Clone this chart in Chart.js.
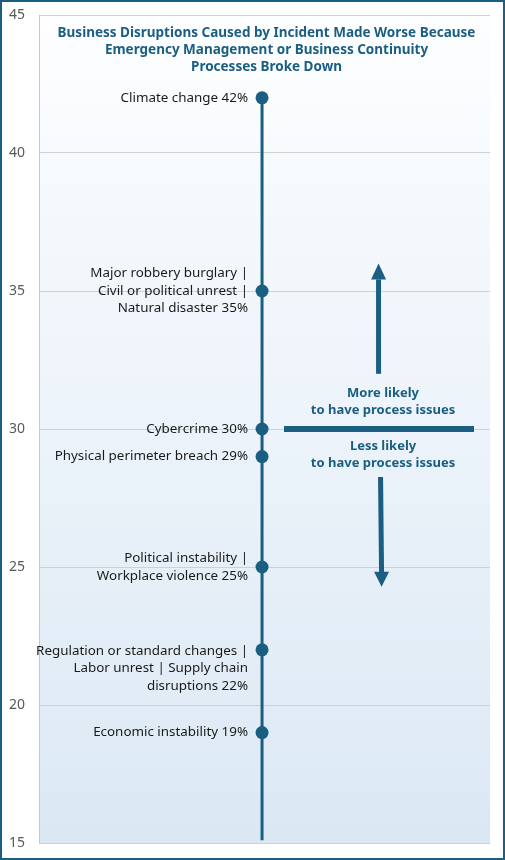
<!DOCTYPE html>
<html>
<head>
<meta charset="utf-8">
<script src="https://cdn.jsdelivr.net/npm/chart.js@4"></script>
<style>
    html, body { margin: 0; padding: 0; background: #ffffff; }
    #wrap { position: relative; width: 505px; height: 860px; }
</style>
</head>
<body>
<div id="wrap"><canvas id="chart" width="505" height="860"></canvas></div>
<script>
// Chart data
const categories = [
    ['Climate change 42%'],
    ['Major robbery burglary |', 'Civil or political unrest |', 'Natural disaster 35%'],
    ['Cybercrime 30%'],
    ['Physical perimeter breach 29%'],
    ['Political instability |', 'Workplace violence 25%'],
    ['Regulation or standard changes |', 'Labor unrest | Supply chain', 'disruptions 22%'],
    ['Economic instability 19%']
];
const shareValues = [42, 35, 30, 29, 25, 22, 19];
const stemBottom = 15.1;
const yTicks = [15, 20, 25, 30, 35, 40, 45];
const titleLines = [
    'Business Disruptions Caused by Incident Made Worse Because',
    'Emergency Management or Business Continuity',
    'Processes Broke Down'
];
const moreText = ['More likely', 'to have process issues'];
const lessText = ['Less likely', 'to have process issues'];

const teal = '#1a5e82';
const fontFam = '"Noto Sans", "Open Sans", sans-serif';

// plot background gradient + outer frame
const backdrop = {
    id: 'backdrop',
    beforeDraw(chart) {
        const { ctx, chartArea: a } = chart;
        const g = ctx.createLinearGradient(0, a.top, 0, a.bottom);
        g.addColorStop(0, '#fdfeff');
        g.addColorStop(0.5, '#ecf3fa');
        g.addColorStop(1, '#dbe8f4');
        ctx.save();
        ctx.fillStyle = g;
        ctx.fillRect(a.left, a.top, a.right - a.left, a.bottom - a.top);
        ctx.restore();
    },
    afterDraw(chart) {
        const { ctx, width, height } = chart;
        ctx.save();
        ctx.strokeStyle = teal;
        ctx.lineWidth = 2;
        ctx.strokeRect(1, 1, width - 2, height - 2);
        ctx.restore();
    }
};

// point labels, title and the likely/unlikely annotation
const annotate = {
    id: 'annotate',
    afterDatasetsDraw(chart) {
        const { ctx, chartArea: a, scales } = chart;
        const meta = chart.getDatasetMeta(0);
        ctx.save();

        // labels to the left of each dot
        ctx.font = '13.4px ' + fontFam;
        ctx.fillStyle = '#1a1a1a';
        ctx.textAlign = 'right';
        ctx.textBaseline = 'middle';
        const lh = 17.5;
        categories.forEach((lines, i) => {
            const pt = meta.data[i];
            const topAligned = lines.length === 3 && i === 5;
            const startY = topAligned ? pt.y + 1 : pt.y - (lines.length - 1) * lh / 2;
            lines.forEach((t, j) => ctx.fillText(t, pt.x - 14, startY + j * lh));
        });

        // title
        ctx.font = 'bold 13.5px ' + fontFam;
        ctx.fillStyle = teal;
        ctx.textAlign = 'center';
        const cx = (a.left + a.right) / 2 + 2;
        titleLines.forEach((t, j) => ctx.fillText(t, cx, scales.y.getPixelForValue(44.35) + j * 17));

        // annotation
        const ax = a.left + (a.right - a.left) * 0.754;
        const y30 = scales.y.getPixelForValue(30);
        ctx.font = 'bold 13px ' + fontFam;
        ctx.fillText(moreText[0], ax + 4, y30 - 36);
        ctx.fillText(moreText[1], ax + 4, y30 - 19);
        ctx.fillText(lessText[0], ax + 4, y30 + 17);
        ctx.fillText(lessText[1], ax + 4, y30 + 34);

        ctx.fillStyle = teal;
        ctx.fillRect(a.left + 245, y30 - 3, 190, 6);

        // up arrow
        const upTop = scales.y.getPixelForValue(36);
        const upBot = scales.y.getPixelForValue(32.0);
        ctx.fillRect(ax - 3, upTop + 16, 5, upBot - upTop - 16);
        ctx.beginPath();
        ctx.moveTo(ax - 0.5, upTop);
        ctx.lineTo(ax - 8, upTop + 16);
        ctx.lineTo(ax + 7, upTop + 16);
        ctx.closePath();
        ctx.fill();

        // down arrow
        const dnTop = scales.y.getPixelForValue(28.26);
        const dnBot = scales.y.getPixelForValue(24.28);
        ctx.beginPath();
        ctx.moveTo(ax - 1, dnTop);
        ctx.lineTo(ax + 4, dnTop);
        ctx.lineTo(ax + 5, dnBot - 14);
        ctx.lineTo(ax, dnBot - 14);
        ctx.closePath();
        ctx.fill();
        ctx.beginPath();
        ctx.moveTo(ax + 2.5, dnBot);
        ctx.lineTo(ax - 5, dnBot - 15);
        ctx.lineTo(ax + 10, dnBot - 15);
        ctx.closePath();
        ctx.fill();

        ctx.restore();
    }
};

const stemData = shareValues.map(v => ({ x: 0, y: v })).concat([{ x: 0, y: stemBottom }]);

new Chart(document.getElementById('chart'), {
    type: 'line',
    data: {
        datasets: [{
            data: stemData,
            borderColor: teal,
            borderWidth: 3,
            backgroundColor: teal,
            pointRadius: stemData.map((p, i) => i < shareValues.length ? 6.5 : 0),
            pointHoverRadius: 6.5,
            pointBorderWidth: 0,
            tension: 0
        }]
    },
    options: {
        responsive: false,
        animation: false,
        events: [],
        layout: { autoPadding: false, padding: { top: 15, right: 15, bottom: 17, left: 0 } },
        plugins: { legend: { display: false }, tooltip: { enabled: false } },
        scales: {
            x: { type: 'linear', display: false, min: -1, max: 1.022 },
            y: {
                min: 15,
                max: 45,
                afterFit: s => {
                    s.width = 39;
                    s.paddingTop = 0;
                    s.paddingBottom = 0;
                },
                afterBuildTicks: s => { s.ticks = yTicks.map(v => ({ value: v })); },
                ticks: { color: '#595959', padding: 14, font: { size: 14, family: fontFam } },
                grid: { color: '#d0d0d0', drawTicks: false, lineWidth: 1 },
                border: { display: true, color: '#c8c8c8', width: 1 }
            }
        }
    },
    plugins: [backdrop, annotate]
});
</script>
</body>
</html>
